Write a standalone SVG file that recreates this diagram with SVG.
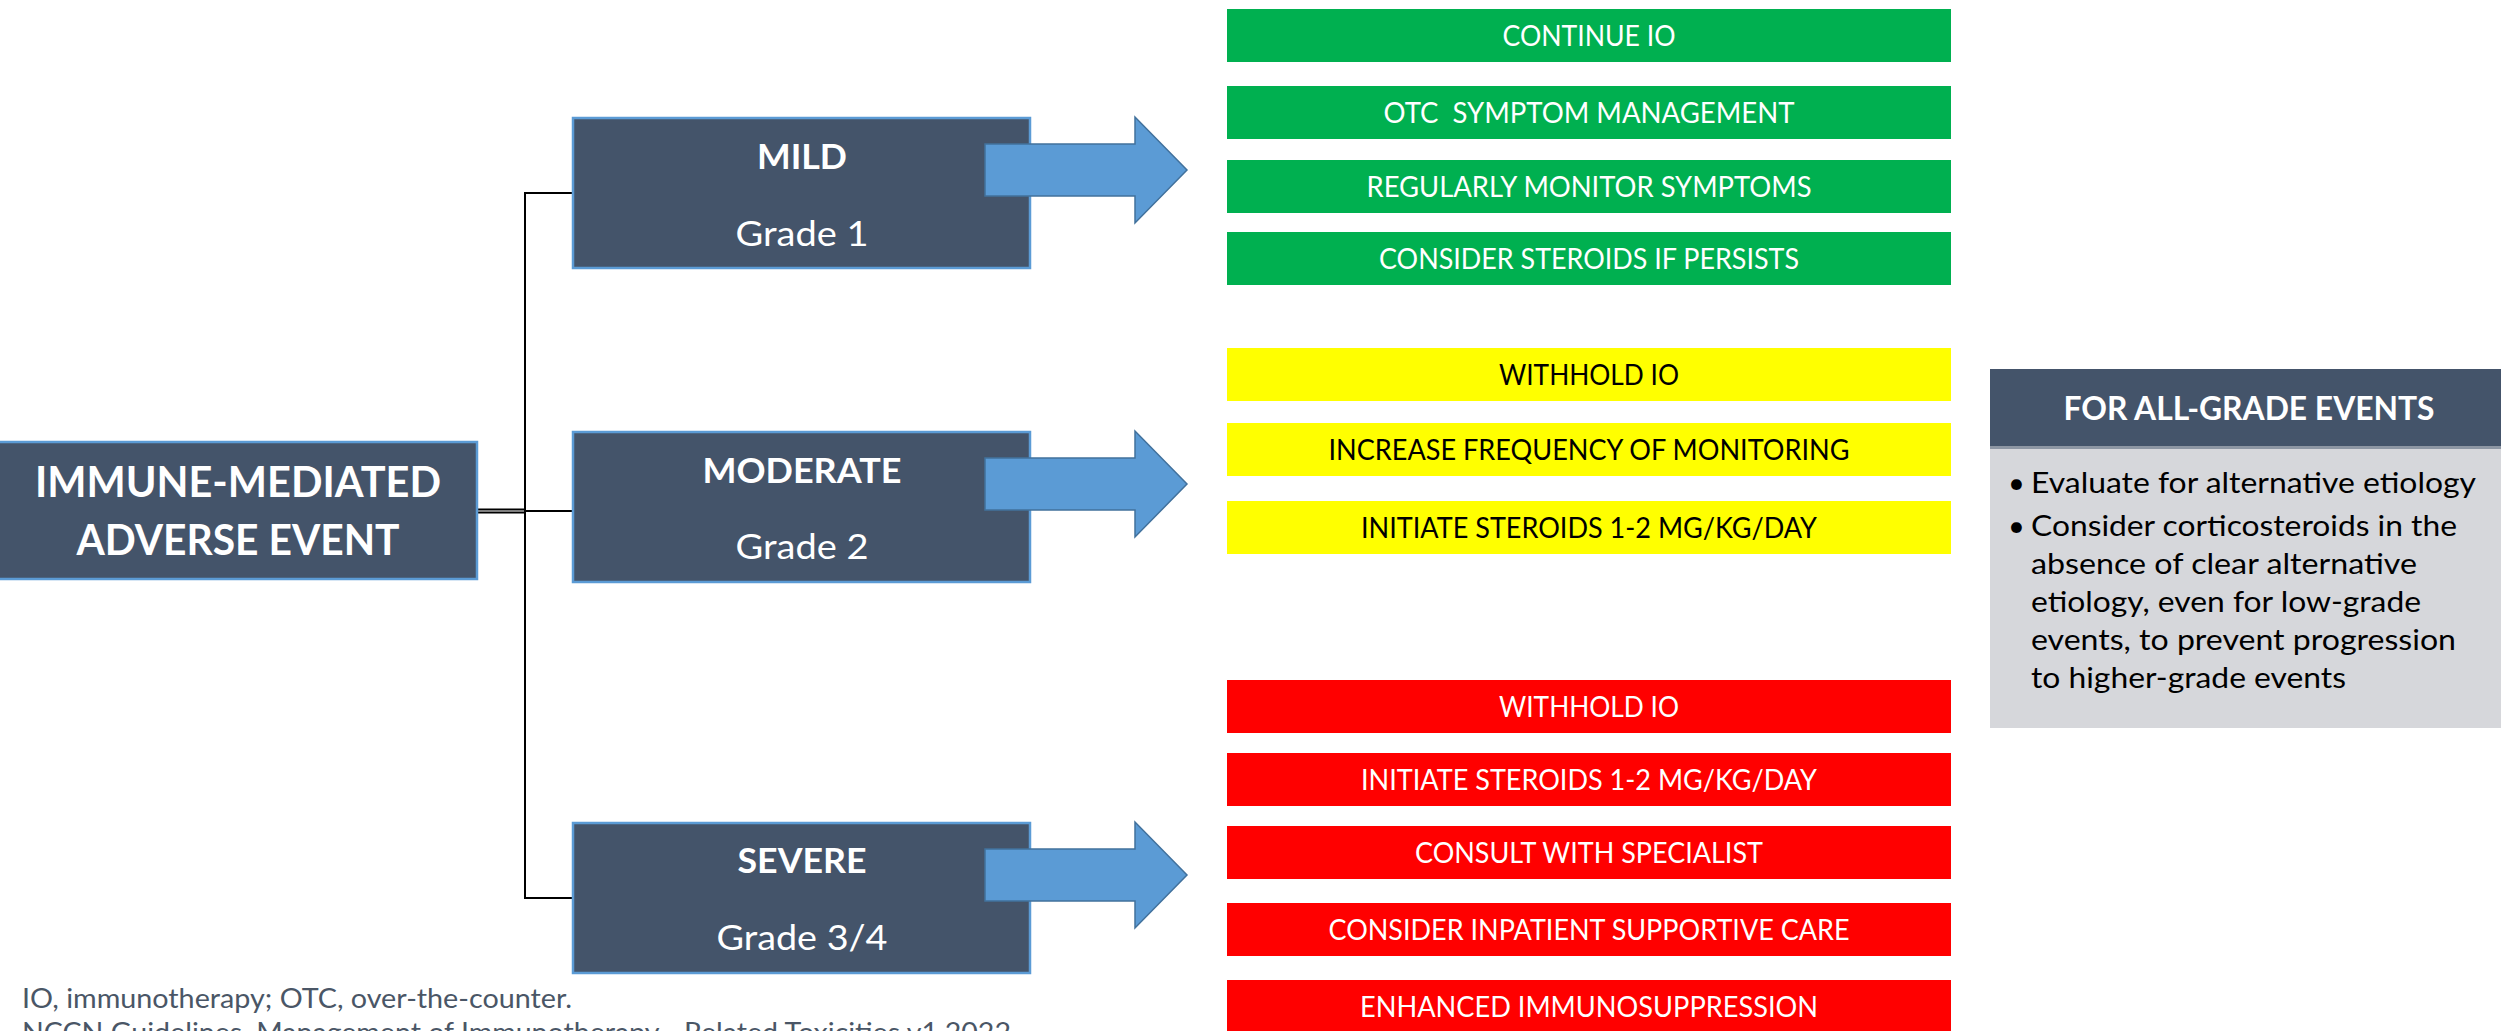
<svg xmlns="http://www.w3.org/2000/svg" width="2501" height="1031" viewBox="0 0 2501 1031">
<style>
  text { font-family: Lato, "Liberation Sans", sans-serif; }
  .grade { fill: #44546A; stroke: #5B9BD5; stroke-width: 2.5; }
  .t-b { fill: #fff; font-weight: bold; text-anchor: middle; }
  .t-r { fill: #fff; text-anchor: middle; }
  .arrow { fill: #5B9BD5; stroke: #41719C; stroke-width: 1.5; stroke-linejoin: miter; }
  .green { fill: #00B050; }
  .yellow { fill: #FFFF00; }
  .red { fill: #FF0000; }
  .act { font-size: 29px; text-anchor: middle; fill: #fff; }
  .act-k { font-size: 29px; text-anchor: middle; fill: #000; }
  .conn { stroke: #000; stroke-width: 2; fill: none; }
  .body { font-size: 29px; fill: #000; }
  .foot { font-size: 26px; fill: #4A5666; }
</style>
<defs>
  <path id="arr" d="M0,26 H150 V-1 L202,52 L150,105 V78 H0 Z"/>
</defs>

<g id="connectors">
  <path class="conn" d="M478,509.5 H525"/>
  <path class="conn" d="M478,512.5 H525"/>
  <path class="conn" d="M525,511 H573"/>
  <path class="conn" d="M573,193 H525 V898 H573"/>
</g>

<g id="node-main">
  <rect class="grade" x="-3" y="442" width="480" height="137"/>
  <text class="t-b" x="238" y="497" font-size="42" textLength="406" lengthAdjust="spacingAndGlyphs">IMMUNE-MEDIATED</text>
  <text class="t-b" x="238" y="555" font-size="42" textLength="323" lengthAdjust="spacingAndGlyphs">ADVERSE EVENT</text>
</g>

<g id="node-mild">
  <rect class="grade" x="573" y="118" width="457" height="150"/>
  <text class="t-b" x="802" y="169" font-size="35" textLength="90" lengthAdjust="spacingAndGlyphs">MILD</text>
  <text class="t-r" x="802" y="246" font-size="35" textLength="133" lengthAdjust="spacingAndGlyphs">Grade 1</text>
  <use href="#arr" class="arrow" x="985" y="118"/>
</g>

<g id="node-moderate">
  <rect class="grade" x="573" y="432" width="457" height="150"/>
  <text class="t-b" x="802" y="483" font-size="35" textLength="199" lengthAdjust="spacingAndGlyphs">MODERATE</text>
  <text class="t-r" x="802" y="559" font-size="35" textLength="133" lengthAdjust="spacingAndGlyphs">Grade 2</text>
  <use href="#arr" class="arrow" x="985" y="432"/>
</g>

<g id="node-severe">
  <rect class="grade" x="573" y="823" width="457" height="150"/>
  <text class="t-b" x="802" y="873" font-size="35" textLength="129" lengthAdjust="spacingAndGlyphs">SEVERE</text>
  <text class="t-r" x="802" y="950" font-size="35" textLength="171" lengthAdjust="spacingAndGlyphs">Grade 3/4</text>
  <use href="#arr" class="arrow" x="985" y="823"/>
</g>

<g id="mild-actions">
  <g id="a-continue-io"><rect class="green" x="1227" y="9" width="724" height="53"/>
    <text class="act" x="1589" y="46" textLength="173" lengthAdjust="spacingAndGlyphs">CONTINUE IO</text></g>
  <g id="a-otc"><rect class="green" x="1227" y="86" width="724" height="53"/>
    <text class="act" x="1589" y="123" textLength="411" lengthAdjust="spacingAndGlyphs" xml:space="preserve">OTC  SYMPTOM MANAGEMENT</text></g>
  <g id="a-monitor"><rect class="green" x="1227" y="160" width="724" height="53"/>
    <text class="act" x="1589" y="197" textLength="445" lengthAdjust="spacingAndGlyphs">REGULARLY MONITOR SYMPTOMS</text></g>
  <g id="a-consider-steroids"><rect class="green" x="1227" y="232" width="724" height="53"/>
    <text class="act" x="1589" y="269" textLength="420" lengthAdjust="spacingAndGlyphs">CONSIDER STEROIDS IF PERSISTS</text></g>
</g>

<g id="moderate-actions">
  <g id="b-withhold"><rect class="yellow" x="1227" y="348" width="724" height="53"/>
    <text class="act-k" x="1589" y="385" textLength="180" lengthAdjust="spacingAndGlyphs">WITHHOLD IO</text></g>
  <g id="b-increase"><rect class="yellow" x="1227" y="423" width="724" height="53"/>
    <text class="act-k" x="1589" y="460" textLength="521" lengthAdjust="spacingAndGlyphs">INCREASE FREQUENCY OF MONITORING</text></g>
  <g id="b-initiate"><rect class="yellow" x="1227" y="501" width="724" height="53"/>
    <text class="act-k" x="1589" y="538" textLength="456" lengthAdjust="spacingAndGlyphs">INITIATE STEROIDS 1-2 MG/KG/DAY</text></g>
</g>

<g id="severe-actions">
  <g id="c-withhold"><rect class="red" x="1227" y="680" width="724" height="53"/>
    <text class="act" x="1589" y="717" textLength="180" lengthAdjust="spacingAndGlyphs">WITHHOLD IO</text></g>
  <g id="c-initiate"><rect class="red" x="1227" y="753" width="724" height="53"/>
    <text class="act" x="1589" y="790" textLength="456" lengthAdjust="spacingAndGlyphs">INITIATE STEROIDS 1-2 MG/KG/DAY</text></g>
  <g id="c-consult"><rect class="red" x="1227" y="826" width="724" height="53"/>
    <text class="act" x="1589" y="863" textLength="348" lengthAdjust="spacingAndGlyphs">CONSULT WITH SPECIALIST</text></g>
  <g id="c-inpatient"><rect class="red" x="1227" y="903" width="724" height="53"/>
    <text class="act" x="1589" y="940" textLength="521" lengthAdjust="spacingAndGlyphs">CONSIDER INPATIENT SUPPORTIVE CARE</text></g>
  <g id="c-enhanced"><rect class="red" x="1227" y="980" width="724" height="53"/>
    <text class="act" x="1589" y="1017" textLength="458" lengthAdjust="spacingAndGlyphs">ENHANCED IMMUNOSUPPRESSION</text></g>
</g>

<g id="all-grade-panel">
  <rect x="1990" y="369" width="515" height="80" fill="#44546A"/>
  <rect x="1990" y="446" width="515" height="3" fill="#8D96A3"/>
  <rect x="1990" y="449" width="515" height="279" fill="#D6D7DB"/>
  <text class="t-b" x="2249" y="420" font-size="33" textLength="371" lengthAdjust="spacingAndGlyphs">FOR ALL-GRADE EVENTS</text>
  <text class="body" x="2008" y="493">•</text>
  <text class="body" x="2031" y="493" textLength="445" lengthAdjust="spacingAndGlyphs">Evaluate for alternative etiology</text>
  <text class="body" x="2008" y="536">•</text>
  <text class="body" x="2031" y="536" textLength="426" lengthAdjust="spacingAndGlyphs">Consider corticosteroids in the</text>
  <text class="body" x="2031" y="574" textLength="386" lengthAdjust="spacingAndGlyphs">absence of clear alternative</text>
  <text class="body" x="2031" y="612" textLength="390" lengthAdjust="spacingAndGlyphs">etiology, even for low-grade</text>
  <text class="body" x="2031" y="650" textLength="425" lengthAdjust="spacingAndGlyphs">events, to prevent progression</text>
  <text class="body" x="2031" y="688" textLength="315" lengthAdjust="spacingAndGlyphs">to higher-grade events</text>
</g>

<g id="footnote">
  <text class="foot" x="22" y="1008" textLength="550" lengthAdjust="spacingAndGlyphs">IO, immunotherapy; OTC, over-the-counter.</text>
  <text class="foot" x="22" y="1042" textLength="989" lengthAdjust="spacingAndGlyphs">NCCN Guidelines. Management of Immunotherapy - Related Toxicities v1.2022</text>
</g>
</svg>
